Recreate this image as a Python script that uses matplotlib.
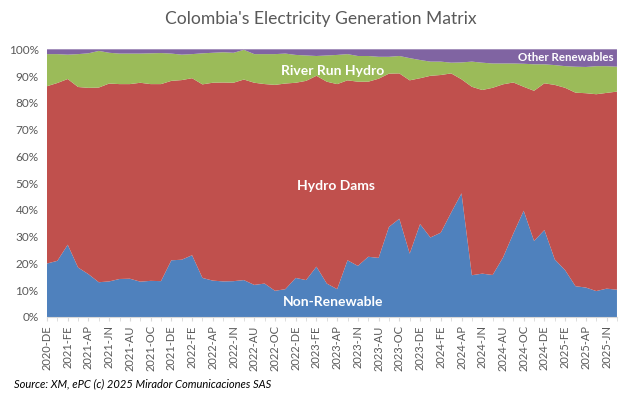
#!/usr/bin/env python3
import numpy as np
import matplotlib
matplotlib.use("Agg")
import matplotlib.pyplot as plt
from matplotlib.ticker import FuncFormatter, MultipleLocator

# monthly categories, Dec 2020 .. Jul 2025
MONTH_CODES = ["JA", "FE", "MR", "AP", "MY", "JN", "JL", "AU", "SE", "OC", "NO", "DE"]
months = [(2020, 12)] + [(y, m) for y in range(2021, 2026) for m in range(1, 13)]
months = [ym for ym in months if ym <= (2025, 7)]
categories = [f"{y}-{MONTH_CODES[m - 1]}" for y, m in months]

# shares of generation, %
non_renewable = [20.0, 21.0, 27.0, 18.5, 16.0, 13.0, 13.3, 14.2, 14.3, 13.2, 13.5, 13.4,
                 21.2, 21.4, 23.1, 14.6, 13.6, 13.3, 13.4, 13.8, 12.0, 12.5, 9.8, 10.4,
                 14.6, 13.8, 18.8, 12.5, 10.4, 21.2, 19.1, 22.5, 22.1, 33.7, 36.7, 23.7,
                 34.7, 29.7, 31.5, 39.0, 46.2, 15.6, 16.2, 15.7, 22.2, 31.2, 39.7, 28.4,
                 32.5, 21.5, 17.5, 11.5, 11.0, 9.7, 10.6, 10.2]
hydro_dams = [66.3, 66.5, 61.9, 67.5, 69.6, 72.8, 74.0, 72.8, 72.7, 74.3, 73.5, 73.6,
              67.1, 67.1, 66.2, 72.3, 74.0, 74.3, 74.2, 75.0, 75.6, 74.6, 77.0, 76.9,
              72.9, 74.5, 71.3, 75.4, 76.6, 67.3, 68.8, 65.4, 67.0, 57.3, 54.3, 64.8,
              54.5, 60.4, 58.9, 52.0, 42.6, 70.4, 68.6, 70.0, 64.8, 56.5, 46.3, 56.1,
              54.8, 65.2, 68.2, 72.3, 72.6, 73.6, 73.2, 74.0]
river_run = [12.0, 10.8, 9.1, 12.3, 12.9, 13.7, 11.5, 11.4, 11.4, 10.9, 11.5, 11.6,
             10.2, 9.5, 9.0, 11.6, 11.2, 11.3, 11.2, 11.1, 10.7, 11.2, 11.5, 11.2,
             10.4, 9.5, 7.4, 9.8, 10.9, 9.8, 9.6, 9.6, 8.2, 6.3, 6.5, 8.3,
             6.8, 5.3, 5.0, 4.0, 6.3, 9.4, 10.2, 9.1, 7.8, 7.1, 8.6, 9.9,
             7.1, 7.4, 8.1, 9.7, 9.8, 10.5, 10.0, 9.3]
other_renewables = [1.8, 1.8, 2.0, 1.8, 1.5, 0.6, 1.3, 1.6, 1.6, 1.6, 1.5, 1.4,
                    1.6, 2.0, 1.8, 1.5, 1.3, 1.1, 1.3, 0.2, 1.8, 1.8, 1.8, 1.6,
                    2.1, 2.3, 2.5, 2.3, 2.1, 1.8, 2.5, 2.5, 2.8, 2.8, 2.5, 3.3,
                    4.0, 4.6, 4.6, 5.0, 4.9, 4.6, 5.0, 5.3, 5.3, 5.3, 5.4, 5.6,
                    5.6, 5.9, 6.3, 6.5, 6.6, 6.3, 6.3, 6.5]

COLORS = ["#4F81BD", "#C0504D", "#9BBB59", "#8064A2"]
GREY = "#595959"
FONT = "Lato"


def main():
    data = np.array([non_renewable, hydro_dams, river_run, other_renewables], dtype=float)
    data = data / data.sum(axis=0) * 100.0  # 100% stacked
    x = np.arange(len(categories))

    fig = plt.figure(figsize=(6.42, 3.96), dpi=100)
    ax = fig.add_axes([0.0732, 0.1995, 0.8878, 0.676])
    ax.stackplot(x, data, colors=COLORS, linewidth=0)

    ax.set_xlim(0, len(categories) - 1)
    ax.set_ylim(0, 100)
    ax.yaxis.set_major_locator(MultipleLocator(10))
    ax.yaxis.set_major_formatter(FuncFormatter(lambda v, p: f"{v:.0f}%"))
    ax.set_xticks(x[::2])
    ax.set_xticklabels(categories[::2], rotation=90)
    ax.set_xticks(x, minor=True)

    for s in ["top", "right", "left"]:
        ax.spines[s].set_visible(False)
    ax.spines["bottom"].set_color("#D9D9D9")
    ax.tick_params(axis="y", length=0, labelsize=8.5, labelcolor=GREY, pad=6)
    ax.tick_params(axis="x", which="both", length=3, color="#D9D9D9",
                   labelsize=8, labelcolor=GREY, pad=3)
    for lbl in ax.get_xticklabels() + ax.get_yticklabels():
        lbl.set_family(FONT)

    lab = dict(color="white", fontweight="bold", family=FONT, ha="center", va="center")
    ax.text(27.6, 91.8, "River Run Hydro", fontsize=10, **lab)
    ax.text(27.9, 49.0, "Hydro Dams", fontsize=10, **lab)
    ax.text(27.6, 5.5, "Non-Renewable", fontsize=10, **lab)
    ax.text(50.1, 96.8, "Other Renewables", fontsize=8.3, **lab)

    fig.text(0.5, 0.952, "Colombia's Electricity Generation Matrix", ha="center", va="center",
             fontsize=12.6, color=GREY, family=FONT)
    fig.text(0.022, 0.03, "Source: XM, ePC (c) 2025 Mirador Comunicaciones SAS", ha="left",
             va="center", fontsize=8, style="italic", color="black", family=FONT)

    fig.savefig("out.png", dpi=100)
    plt.close(fig)


if __name__ == "__main__":
    main()
